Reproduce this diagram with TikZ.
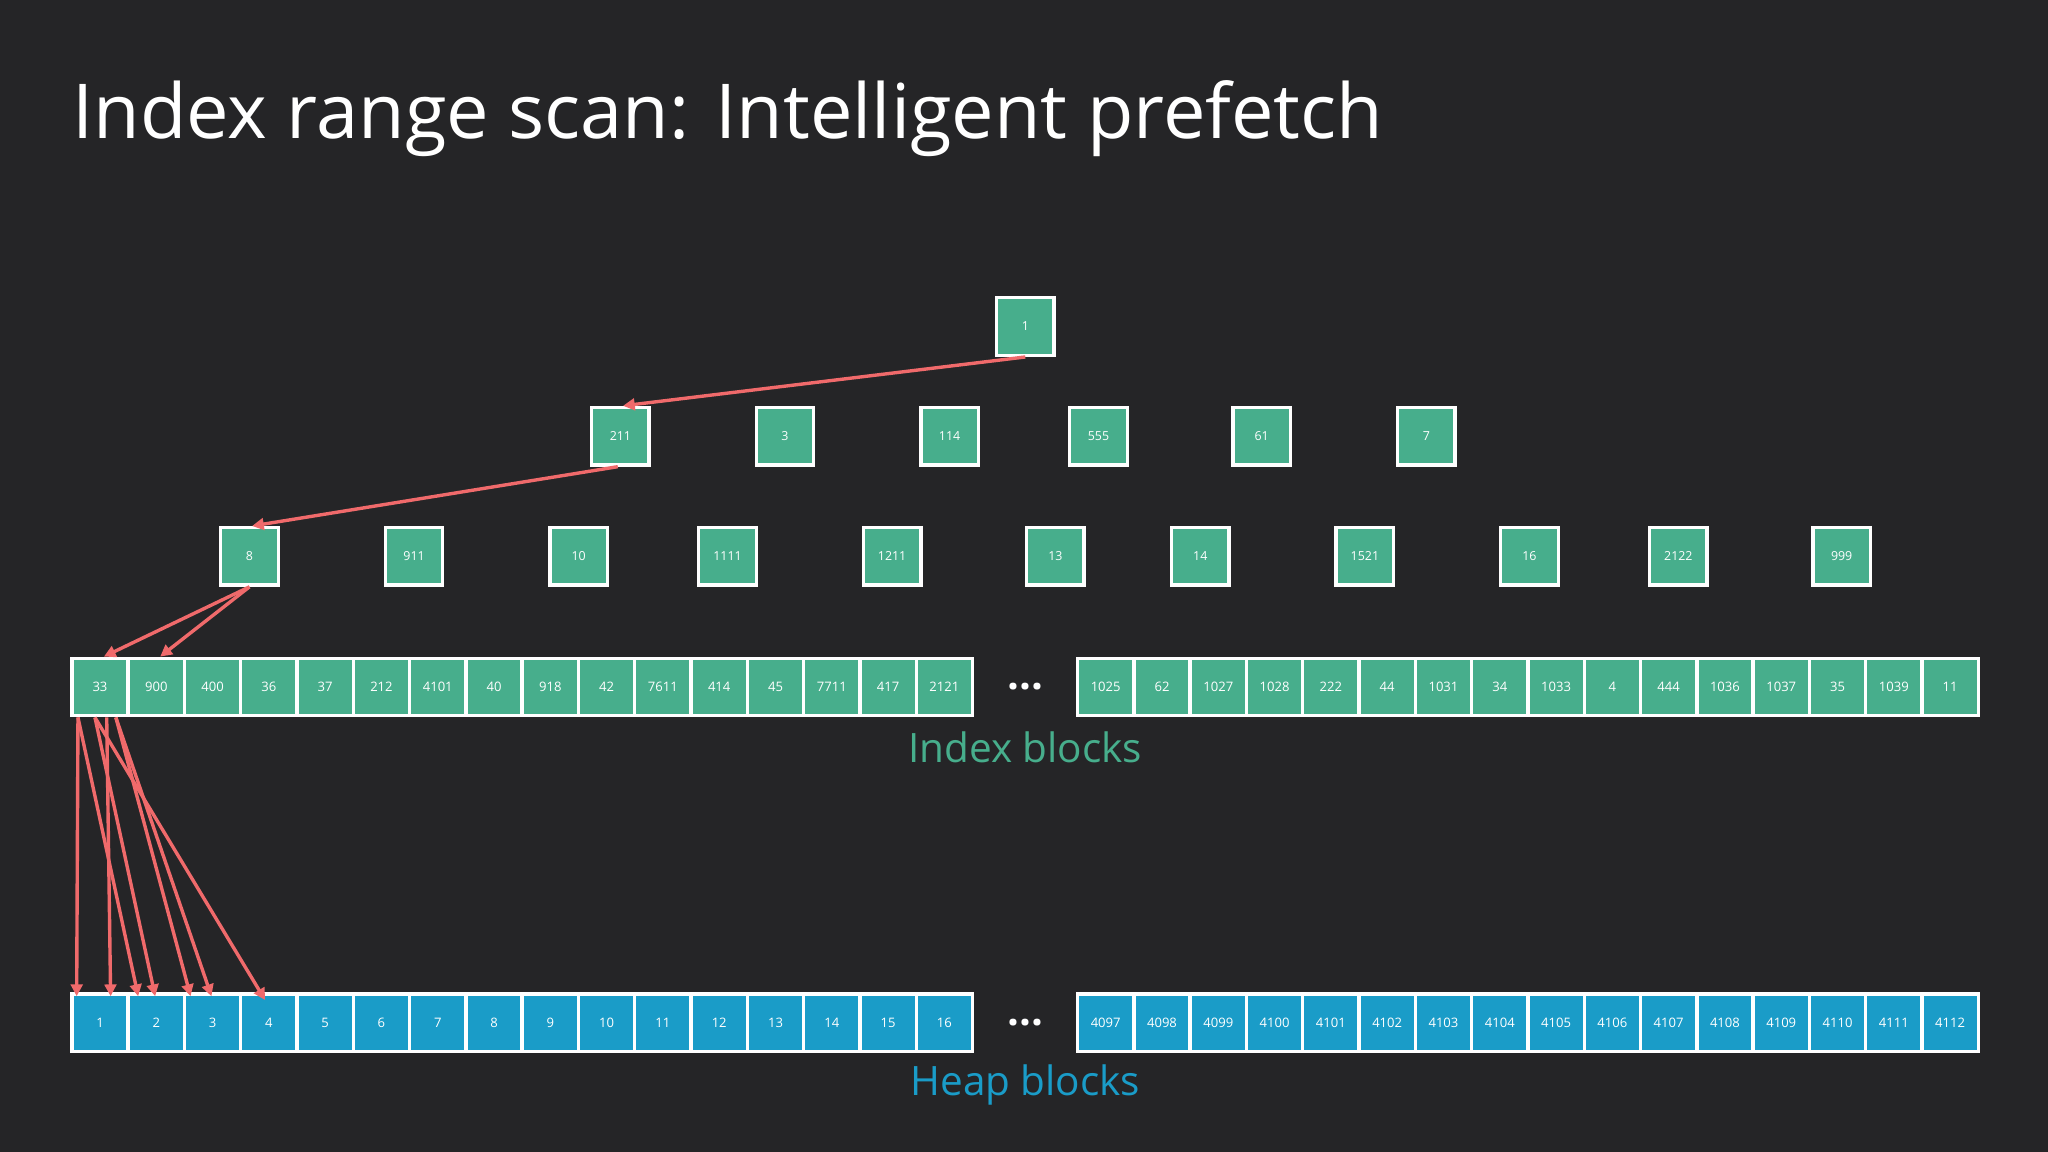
\documentclass[tikz,border=0pt]{standalone}
\usepackage{fontspec}
\setmainfont{Open Sans}
\usetikzlibrary{arrows.meta}
\definecolor{bg}{HTML}{252527}
\definecolor{grn}{HTML}{47AE8C}
\definecolor{blu}{HTML}{1A9CC8}
\definecolor{arr}{HTML}{F06A6B}
\begin{document}
\begin{tikzpicture}[x=1pt,y=-1pt,
  box/.style={draw=white,line width=2.6pt,fill=grn,minimum width=44pt,minimum height=44pt,inner sep=0pt,text=white,font=\fontsize{9.5}{9.5}\selectfont},
  icell/.style={draw=white,line width=2.6pt,fill=grn,minimum width=43.1pt,minimum height=44pt,inner sep=0pt,text=white,font=\fontsize{10}{10}\selectfont},
  hcell/.style={icell,fill=blu},
  ar/.style={draw=arr,line width=2.6pt,-{Triangle[length=9pt,width=9pt]}}]
\useasboundingbox[fill=bg] (0,0) rectangle (1568,882);
\node[anchor=base west,text=white,font=\fontsize{58}{58}\selectfont] (title) at (52,106) {Index range scan: Intelligent prefetch};
\node[box] (r) at (785,250) {1};
\foreach \x/\t [count=\k] in {475/211,601/3,727/114,841/555,966/61,1092/7}
  \node[box] (a\k) at (\x,334) {\t};
\foreach \x/\t [count=\k] in {191/8,317/911,443/10,557/1111,683/1211,808/13,919/14,1045/1521,1171/16,1285/2122,1410/999}
  \node[box] (b\k) at (\x,426) {\t};
\foreach \t [count=\k] in {33,900,400,36,37,212,4101,40,918,42,7611,414,45,7711,417,2121}
  \node[icell] (i\k) at ({55+21.55+43.1*(\k-1)},526) {\t};
\foreach \t [count=\k from 17] in {1025,62,1027,1028,222,44,1031,34,1033,4,444,1036,1037,35,1039,11}
  \node[icell] (i\k) at ({825+21.55+43.1*(\k-17)},526) {\t};
\foreach \k in {1,...,16}
  \node[hcell] (h\k) at ({55+21.55+43.1*(\k-1)},783) {\k};
\foreach \t [count=\k from 17] in {4097,4098,4099,4100,4101,4102,4103,4104,4105,4106,4107,4108,4109,4110,4111,4112}
  \node[hcell] (h\k) at ({825+21.55+43.1*(\k-17)},783) {\t};
\node[text=white,font=\bfseries\fontsize{32}{32}\selectfont] (d1) at (785,526) {...};
\node[text=white,font=\bfseries\fontsize{32}{32}\selectfont] (d2) at (785,783) {...};
\node[text=grn,font=\fontsize{31}{31}\selectfont] (il) at (785,572) {Index blocks};
\node[text=blu,font=\fontsize{31}{31}\selectfont] (hl) at (785,831) {Heap blocks};
\draw[ar] (r.south) -- ([xshift=2pt]a1.north);
\draw[ar] ([xshift=-2pt]a1.south) -- ([xshift=2pt]b1.north);
\draw[ar] (b1.south) -- ([xshift=3pt]i1.north);
\draw[ar] (b1.south) -- ([xshift=3pt]i2.north);
\draw[ar] ([xshift=6pt]i1.south west) -- ([xshift=5pt,yshift=-3pt]h1.north west);
\draw[ar] ([xshift=6pt]i1.south west) -- ([xshift=9pt,yshift=-3pt]h2.north west);
\draw[ar] ([xshift=28pt]i1.south west) -- ([xshift=31pt,yshift=-3pt]h1.north west);
\draw[ar] ([xshift=19pt]i1.south west) -- ([xshift=22pt,yshift=-3pt]h2.north west);
\draw[ar] ([xshift=35pt]i1.south west) -- ([xshift=6pt,yshift=-3pt]h3.north west);
\draw[ar] ([xshift=35pt]i1.south west) -- ([xshift=22pt,yshift=-3pt]h3.north west);
\draw[ar] ([xshift=19pt]i1.south west) -- ([xshift=20pt,yshift=-6pt]h4.north west);
\end{tikzpicture}
\end{document}
